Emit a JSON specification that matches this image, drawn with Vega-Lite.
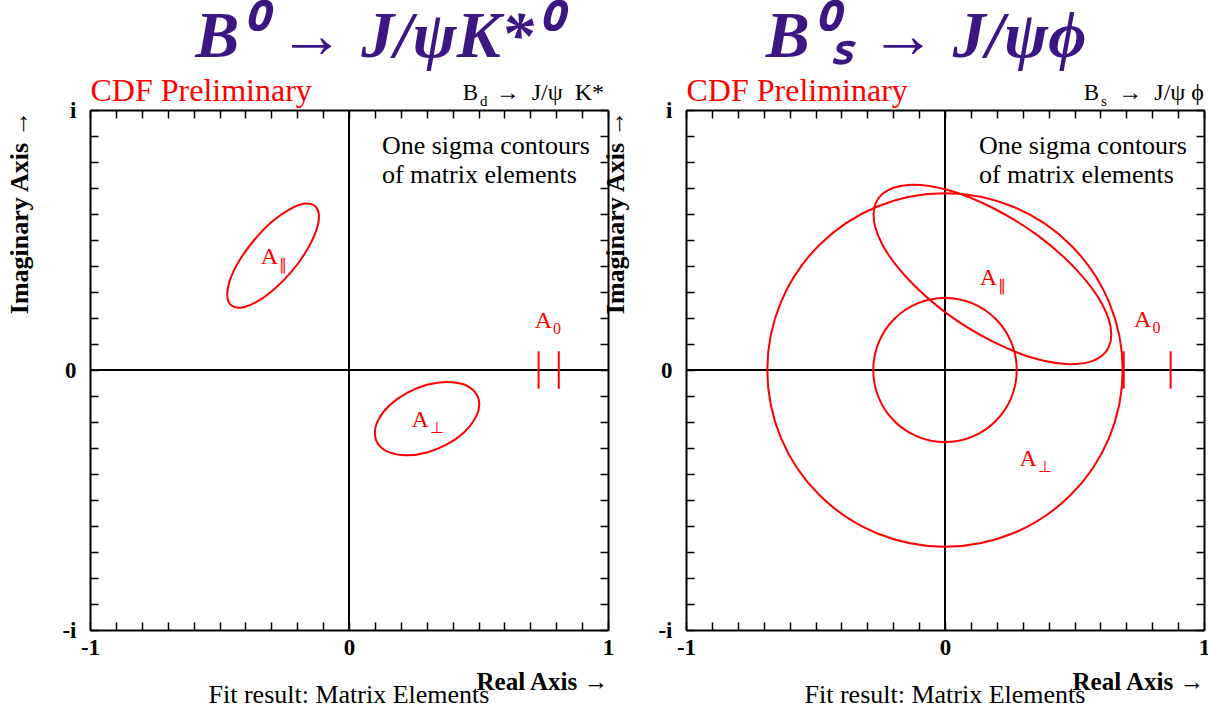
{
  "$schema": "https://vega.github.io/schema/vega-lite/v6.json",
  "padding": {"left": 6, "top": 4, "right": 0, "bottom": 0},
  "background": "white",
  "spacing": 78,
  "bounds": "flush",
  "config": {
    "font": "Liberation Serif",
    "view": {"stroke": null},
    "axis": {"grid": false, "domainColor": "black", "domainWidth": 2, "tickColor": "black", "tickWidth": 1.5, "tickSize": -8, "labelColor": "black", "titleColor": "black", "labelFont": "Liberation Serif", "titleFont": "Liberation Serif", "labelFlush": false, "labelOverlap": false},
    "title": {"font": "Liberation Serif", "fontSize": 66, "fontStyle": "italic", "fontWeight": "bold", "color": "#3c1682", "anchor": "middle", "offset": 3},
    "text": {"font": "Liberation Serif"}
  },
  "hconcat": [
    {
      "width": 518, "height": 520,
      "title": {"text": "B⁰ → J/ψK*⁰", "dx": 27},
      "resolve": {"axis": {"x": "independent", "y": "independent"}},
      "layer": [
        {"data": {"values": [{"v": 0}]}, "mark": {"type": "rule", "color": "black", "strokeWidth": 2}, "encoding": {"x": {"field": "v", "type": "quantitative", "scale": {"domain": [-1, 1], "nice": false, "zero": false}, "axis": null}}},
        {"data": {"values": [{"v": 0}]}, "mark": {"type": "rule", "color": "black", "strokeWidth": 2}, "encoding": {"y": {"field": "v", "type": "quantitative", "scale": {"domain": [-1, 1], "nice": false, "zero": false}, "axis": null}}},
        {
          "data": {"values": [
            {"g": "par", "i": 0, "x": -0.131, "y": 0.631}, {"g": "par", "i": 1, "x": -0.171, "y": 0.640}, {"g": "par", "i": 2, "x": -0.229, "y": 0.618}, {"g": "par", "i": 3, "x": -0.298, "y": 0.570},
            {"g": "par", "i": 4, "x": -0.365, "y": 0.501}, {"g": "par", "i": 5, "x": -0.422, "y": 0.423}, {"g": "par", "i": 6, "x": -0.459, "y": 0.348}, {"g": "par", "i": 7, "x": -0.470, "y": 0.287},
            {"g": "par", "i": 8, "x": -0.455, "y": 0.249}, {"g": "par", "i": 9, "x": -0.415, "y": 0.240}, {"g": "par", "i": 10, "x": -0.357, "y": 0.262}, {"g": "par", "i": 11, "x": -0.289, "y": 0.311},
            {"g": "par", "i": 12, "x": -0.221, "y": 0.379}, {"g": "par", "i": 13, "x": -0.165, "y": 0.457}, {"g": "par", "i": 14, "x": -0.128, "y": 0.532}, {"g": "par", "i": 15, "x": -0.116, "y": 0.593},
            {"g": "perp", "i": 0, "x": 0.503, "y": -0.132}, {"g": "perp", "i": 1, "x": 0.487, "y": -0.086}, {"g": "perp", "i": 2, "x": 0.444, "y": -0.056}, {"g": "perp", "i": 3, "x": 0.378, "y": -0.046},
            {"g": "perp", "i": 4, "x": 0.301, "y": -0.057}, {"g": "perp", "i": 5, "x": 0.224, "y": -0.088}, {"g": "perp", "i": 6, "x": 0.159, "y": -0.134}, {"g": "perp", "i": 7, "x": 0.115, "y": -0.188},
            {"g": "perp", "i": 8, "x": 0.100, "y": -0.242}, {"g": "perp", "i": 9, "x": 0.115, "y": -0.288}, {"g": "perp", "i": 10, "x": 0.159, "y": -0.318}, {"g": "perp", "i": 11, "x": 0.224, "y": -0.328},
            {"g": "perp", "i": 12, "x": 0.301, "y": -0.317}, {"g": "perp", "i": 13, "x": 0.378, "y": -0.286}, {"g": "perp", "i": 14, "x": 0.444, "y": -0.240}, {"g": "perp", "i": 15, "x": 0.487, "y": -0.186}
          ]},
          "mark": {"type": "line", "color": "#ff0000", "strokeWidth": 2, "interpolate": "cardinal-closed"},
          "encoding": {
            "x": {"field": "x", "type": "quantitative", "scale": {"domain": [-1, 1], "nice": false, "zero": false},
              "axis": {"orient": "bottom", "values": [-1, -0.9, -0.8, -0.7, -0.6, -0.5, -0.4, -0.3, -0.2, -0.1, 0, 0.1, 0.2, 0.3, 0.4, 0.5, 0.6, 0.7, 0.8, 0.9, 1],
                "labelExpr": "datum.value === 0 ? '0' : datum.value === 1 ? '1' : datum.value === -1 ? '-1' : ''",
                "labelFontSize": 23, "labelFontWeight": "bold", "labelPadding": 14,
                "title": "Real Axis →", "titleAnchor": "end", "titleFontSize": 25, "titleFontWeight": "bold", "titlePadding": 10}},
            "y": {"field": "y", "type": "quantitative", "scale": {"domain": [-1, 1], "nice": false, "zero": false},
              "axis": {"orient": "left", "values": [-1, -0.9, -0.8, -0.7, -0.6, -0.5, -0.4, -0.3, -0.2, -0.1, 0, 0.1, 0.2, 0.3, 0.4, 0.5, 0.6, 0.7, 0.8, 0.9, 1],
                "labelExpr": "datum.value === 0 ? '0' : datum.value === 1 ? 'i' : datum.value === -1 ? '-i' : ''",
                "labelFontSize": 23, "labelFontWeight": "bold", "labelPadding": 22, "labelBaseline": "middle",
                "title": "Imaginary Axis →", "titleAnchor": "end", "titleFontSize": 26, "titleFontWeight": "bold", "titlePadding": 29}},
            "detail": {"field": "g"},
            "order": {"field": "i", "type": "quantitative"}
          }
        },
        {
          "data": {"values": [{"x": 0.732, "y": -0.072, "y2": 0.072}, {"x": 0.810, "y": -0.072, "y2": 0.072}]},
          "mark": {"type": "rule", "color": "#ff0000", "strokeWidth": 2},
          "encoding": {
            "x": {"field": "x", "type": "quantitative", "scale": {"domain": [-1, 1], "nice": false, "zero": false},
              "axis": {"orient": "top", "values": [-1, -0.9, -0.8, -0.7, -0.6, -0.5, -0.4, -0.3, -0.2, -0.1, 0, 0.1, 0.2, 0.3, 0.4, 0.5, 0.6, 0.7, 0.8, 0.9, 1],
                "labels": false, "title": "CDF Preliminary", "titleAnchor": "start", "titleColor": "#ff0000", "titleFontSize": 32, "titleFontWeight": "normal", "titlePadding": 2}},
            "y": {"field": "y", "type": "quantitative", "scale": {"domain": [-1, 1], "nice": false, "zero": false},
              "axis": {"orient": "right", "values": [-1, -0.9, -0.8, -0.7, -0.6, -0.5, -0.4, -0.3, -0.2, -0.1, 0, 0.1, 0.2, 0.3, 0.4, 0.5, 0.6, 0.7, 0.8, 0.9, 1], "labels": false, "title": null}},
            "y2": {"field": "y2"}
          }
        },
        {
          "data": {"values": [{"m": "A", "s": "∥", "x": -0.274, "y": 0.408}, {"m": "A", "s": "⊥", "x": 0.308, "y": -0.218}, {"m": "A", "s": "0", "x": 0.784, "y": 0.160}]},
          "layer": [
            {"mark": {"type": "text", "color": "#ff0000", "fontSize": 24, "align": "right", "baseline": "alphabetic"}, "encoding": {"text": {"field": "m"}}},
            {"mark": {"type": "text", "color": "#ff0000", "fontSize": 16, "align": "left", "baseline": "alphabetic", "dx": 1, "dy": 6}, "encoding": {"text": {"field": "s"}}}
          ],
          "encoding": {
            "x": {"field": "x", "type": "quantitative", "scale": {"domain": [-1, 1], "nice": false, "zero": false}, "axis": null},
            "y": {"field": "y", "type": "quantitative", "scale": {"domain": [-1, 1], "nice": false, "zero": false}, "axis": null}
          }
        },
        {
          "data": {"values": [{"x": 0.127, "y": 0.830, "t": "One sigma contours\nof matrix elements"}]},
          "mark": {"type": "text", "color": "black", "fontSize": 26, "align": "left", "baseline": "alphabetic", "lineBreak": "\n", "lineHeight": 29},
          "encoding": {
            "x": {"field": "x", "type": "quantitative", "scale": {"domain": [-1, 1], "nice": false, "zero": false}, "axis": null},
            "y": {"field": "y", "type": "quantitative", "scale": {"domain": [-1, 1], "nice": false, "zero": false}, "axis": null},
            "text": {"field": "t"}
          }
        },
        {
          "data": {"values": [{"x": 1, "y": 1, "t": "→\u00a0 J/ψ\u00a0 K*", "b": "B", "s": "d"}]},
          "layer": [
            {"mark": {"type": "text", "color": "black", "fontSize": 24, "align": "right", "baseline": "alphabetic", "dx": -4, "dy": -10}, "encoding": {"text": {"field": "t"}}},
            {"mark": {"type": "text", "color": "black", "fontSize": 23, "align": "right", "baseline": "alphabetic", "dx": -130, "dy": -10}, "encoding": {"text": {"field": "b"}}},
            {"mark": {"type": "text", "color": "black", "fontSize": 15, "align": "left", "baseline": "alphabetic", "dx": -128, "dy": -4}, "encoding": {"text": {"field": "s"}}}
          ],
          "encoding": {
            "x": {"field": "x", "type": "quantitative", "scale": {"domain": [-1, 1], "nice": false, "zero": false}, "axis": null},
            "y": {"field": "y", "type": "quantitative", "scale": {"domain": [-1, 1], "nice": false, "zero": false}, "axis": null}
          }
        },
        {
          "data": {"values": [{"x": 0, "y": -1, "t": "Fit result: Matrix Elements"}]},
          "mark": {"type": "text", "color": "black", "fontSize": 26, "align": "center", "baseline": "alphabetic", "dy": 73},
          "encoding": {
            "x": {"field": "x", "type": "quantitative", "scale": {"domain": [-1, 1], "nice": false, "zero": false}, "axis": null},
            "y": {"field": "y", "type": "quantitative", "scale": {"domain": [-1, 1], "nice": false, "zero": false}, "axis": null},
            "text": {"field": "t"}
          }
        }
      ]
    },
    {
      "width": 518, "height": 520,
      "title": {"text": "B⁰ₛ → J/ψϕ", "dx": -19},
      "resolve": {"axis": {"x": "independent", "y": "independent"}},
      "layer": [
        {"data": {"values": [{"v": 0}]}, "mark": {"type": "rule", "color": "black", "strokeWidth": 2}, "encoding": {"x": {"field": "v", "type": "quantitative", "scale": {"domain": [-1, 1], "nice": false, "zero": false}, "axis": null}}},
        {"data": {"values": [{"v": 0}]}, "mark": {"type": "rule", "color": "black", "strokeWidth": 2}, "encoding": {"y": {"field": "v", "type": "quantitative", "scale": {"domain": [-1, 1], "nice": false, "zero": false}, "axis": null}}},
        {
          "data": {"values": [
            {"g": "e1", "i": 0, "x": 0.642, "y": 0.137}, {"g": "e1", "i": 1, "x": 0.607, "y": 0.253}, {"g": "e1", "i": 2, "x": 0.507, "y": 0.386}, {"g": "e1", "i": 3, "x": 0.359, "y": 0.517},
            {"g": "e1", "i": 4, "x": 0.183, "y": 0.624}, {"g": "e1", "i": 5, "x": 0.008, "y": 0.693}, {"g": "e1", "i": 6, "x": -0.141, "y": 0.712}, {"g": "e1", "i": 7, "x": -0.241, "y": 0.678},
            {"g": "e1", "i": 8, "x": -0.276, "y": 0.597}, {"g": "e1", "i": 9, "x": -0.241, "y": 0.481}, {"g": "e1", "i": 10, "x": -0.141, "y": 0.348}, {"g": "e1", "i": 11, "x": 0.008, "y": 0.217},
            {"g": "e1", "i": 12, "x": 0.183, "y": 0.110}, {"g": "e1", "i": 13, "x": 0.358, "y": 0.041}, {"g": "e1", "i": 14, "x": 0.507, "y": 0.023}, {"g": "e1", "i": 15, "x": 0.607, "y": 0.056},
            {"g": "c1", "i": 0, "x": 0.686, "y": 0}, {"g": "c1", "i": 1, "x": 0.634, "y": 0.260}, {"g": "c1", "i": 2, "x": 0.485, "y": 0.481}, {"g": "c1", "i": 3, "x": 0.263, "y": 0.628},
            {"g": "c1", "i": 4, "x": 0, "y": 0.680}, {"g": "c1", "i": 5, "x": -0.263, "y": 0.628}, {"g": "c1", "i": 6, "x": -0.485, "y": 0.481}, {"g": "c1", "i": 7, "x": -0.634, "y": 0.260},
            {"g": "c1", "i": 8, "x": -0.686, "y": 0}, {"g": "c1", "i": 9, "x": -0.634, "y": -0.260}, {"g": "c1", "i": 10, "x": -0.485, "y": -0.481}, {"g": "c1", "i": 11, "x": -0.263, "y": -0.628},
            {"g": "c1", "i": 12, "x": 0, "y": -0.680}, {"g": "c1", "i": 13, "x": 0.263, "y": -0.628}, {"g": "c1", "i": 14, "x": 0.485, "y": -0.481}, {"g": "c1", "i": 15, "x": 0.634, "y": -0.260},
            {"g": "c2", "i": 0, "x": 0.277, "y": 0}, {"g": "c2", "i": 1, "x": 0.256, "y": 0.106}, {"g": "c2", "i": 2, "x": 0.196, "y": 0.196}, {"g": "c2", "i": 3, "x": 0.106, "y": 0.256},
            {"g": "c2", "i": 4, "x": 0, "y": 0.277}, {"g": "c2", "i": 5, "x": -0.106, "y": 0.256}, {"g": "c2", "i": 6, "x": -0.196, "y": 0.196}, {"g": "c2", "i": 7, "x": -0.256, "y": 0.106},
            {"g": "c2", "i": 8, "x": -0.277, "y": 0}, {"g": "c2", "i": 9, "x": -0.256, "y": -0.106}, {"g": "c2", "i": 10, "x": -0.196, "y": -0.196}, {"g": "c2", "i": 11, "x": -0.106, "y": -0.256},
            {"g": "c2", "i": 12, "x": 0, "y": -0.277}, {"g": "c2", "i": 13, "x": 0.106, "y": -0.256}, {"g": "c2", "i": 14, "x": 0.196, "y": -0.196}, {"g": "c2", "i": 15, "x": 0.256, "y": -0.106}
          ]},
          "mark": {"type": "line", "color": "#ff0000", "strokeWidth": 2, "interpolate": "cardinal-closed"},
          "encoding": {
            "x": {"field": "x", "type": "quantitative", "scale": {"domain": [-1, 1], "nice": false, "zero": false},
              "axis": {"orient": "bottom", "values": [-1, -0.9, -0.8, -0.7, -0.6, -0.5, -0.4, -0.3, -0.2, -0.1, 0, 0.1, 0.2, 0.3, 0.4, 0.5, 0.6, 0.7, 0.8, 0.9, 1],
                "labelExpr": "datum.value === 0 ? '0' : datum.value === 1 ? '1' : datum.value === -1 ? '-1' : ''",
                "labelFontSize": 23, "labelFontWeight": "bold", "labelPadding": 14,
                "title": "Real Axis →", "titleAnchor": "end", "titleFontSize": 25, "titleFontWeight": "bold", "titlePadding": 10}},
            "y": {"field": "y", "type": "quantitative", "scale": {"domain": [-1, 1], "nice": false, "zero": false},
              "axis": {"orient": "left", "values": [-1, -0.9, -0.8, -0.7, -0.6, -0.5, -0.4, -0.3, -0.2, -0.1, 0, 0.1, 0.2, 0.3, 0.4, 0.5, 0.6, 0.7, 0.8, 0.9, 1],
                "labelExpr": "datum.value === 0 ? '0' : datum.value === 1 ? 'i' : datum.value === -1 ? '-i' : ''",
                "labelFontSize": 23, "labelFontWeight": "bold", "labelPadding": 22, "labelBaseline": "middle",
                "title": "Imaginary Axis →", "titleAnchor": "end", "titleFontSize": 26, "titleFontWeight": "bold", "titlePadding": 29}},
            "detail": {"field": "g"},
            "order": {"field": "i", "type": "quantitative"}
          }
        },
        {
          "data": {"values": [{"x": 0.690, "y": -0.072, "y2": 0.072}, {"x": 0.871, "y": -0.072, "y2": 0.072}]},
          "mark": {"type": "rule", "color": "#ff0000", "strokeWidth": 2},
          "encoding": {
            "x": {"field": "x", "type": "quantitative", "scale": {"domain": [-1, 1], "nice": false, "zero": false},
              "axis": {"orient": "top", "values": [-1, -0.9, -0.8, -0.7, -0.6, -0.5, -0.4, -0.3, -0.2, -0.1, 0, 0.1, 0.2, 0.3, 0.4, 0.5, 0.6, 0.7, 0.8, 0.9, 1],
                "labels": false, "title": "CDF Preliminary", "titleAnchor": "start", "titleColor": "#ff0000", "titleFontSize": 32, "titleFontWeight": "normal", "titlePadding": 2}},
            "y": {"field": "y", "type": "quantitative", "scale": {"domain": [-1, 1], "nice": false, "zero": false},
              "axis": {"orient": "right", "values": [-1, -0.9, -0.8, -0.7, -0.6, -0.5, -0.4, -0.3, -0.2, -0.1, 0, 0.1, 0.2, 0.3, 0.4, 0.5, 0.6, 0.7, 0.8, 0.9, 1], "labels": false, "title": null}},
            "y2": {"field": "y2"}
          }
        },
        {
          "data": {"values": [{"m": "A", "s": "∥", "x": 0.201, "y": 0.327}, {"m": "A", "s": "0", "x": 0.797, "y": 0.164}, {"m": "A", "s": "⊥", "x": 0.355, "y": -0.369}]},
          "layer": [
            {"mark": {"type": "text", "color": "#ff0000", "fontSize": 24, "align": "right", "baseline": "alphabetic"}, "encoding": {"text": {"field": "m"}}},
            {"mark": {"type": "text", "color": "#ff0000", "fontSize": 16, "align": "left", "baseline": "alphabetic", "dx": 1, "dy": 6}, "encoding": {"text": {"field": "s"}}}
          ],
          "encoding": {
            "x": {"field": "x", "type": "quantitative", "scale": {"domain": [-1, 1], "nice": false, "zero": false}, "axis": null},
            "y": {"field": "y", "type": "quantitative", "scale": {"domain": [-1, 1], "nice": false, "zero": false}, "axis": null}
          }
        },
        {
          "data": {"values": [{"x": 0.131, "y": 0.830, "t": "One sigma contours\nof matrix elements"}]},
          "mark": {"type": "text", "color": "black", "fontSize": 26, "align": "left", "baseline": "alphabetic", "lineBreak": "\n", "lineHeight": 29},
          "encoding": {
            "x": {"field": "x", "type": "quantitative", "scale": {"domain": [-1, 1], "nice": false, "zero": false}, "axis": null},
            "y": {"field": "y", "type": "quantitative", "scale": {"domain": [-1, 1], "nice": false, "zero": false}, "axis": null},
            "text": {"field": "t"}
          }
        },
        {
          "data": {"values": [{"x": 1, "y": 1, "t": "→\u00a0 J/ψ ϕ", "b": "B", "s": "s"}]},
          "layer": [
            {"mark": {"type": "text", "color": "black", "fontSize": 24, "align": "right", "baseline": "alphabetic", "dx": 0, "dy": -10}, "encoding": {"text": {"field": "t"}}},
            {"mark": {"type": "text", "color": "black", "fontSize": 23, "align": "right", "baseline": "alphabetic", "dx": -105, "dy": -10}, "encoding": {"text": {"field": "b"}}},
            {"mark": {"type": "text", "color": "black", "fontSize": 15, "align": "left", "baseline": "alphabetic", "dx": -103, "dy": -4}, "encoding": {"text": {"field": "s"}}}
          ],
          "encoding": {
            "x": {"field": "x", "type": "quantitative", "scale": {"domain": [-1, 1], "nice": false, "zero": false}, "axis": null},
            "y": {"field": "y", "type": "quantitative", "scale": {"domain": [-1, 1], "nice": false, "zero": false}, "axis": null}
          }
        },
        {
          "data": {"values": [{"x": 0, "y": -1, "t": "Fit result: Matrix Elements"}]},
          "mark": {"type": "text", "color": "black", "fontSize": 26, "align": "center", "baseline": "alphabetic", "dy": 73},
          "encoding": {
            "x": {"field": "x", "type": "quantitative", "scale": {"domain": [-1, 1], "nice": false, "zero": false}, "axis": null},
            "y": {"field": "y", "type": "quantitative", "scale": {"domain": [-1, 1], "nice": false, "zero": false}, "axis": null},
            "text": {"field": "t"}
          }
        }
      ]
    }
  ]
}
